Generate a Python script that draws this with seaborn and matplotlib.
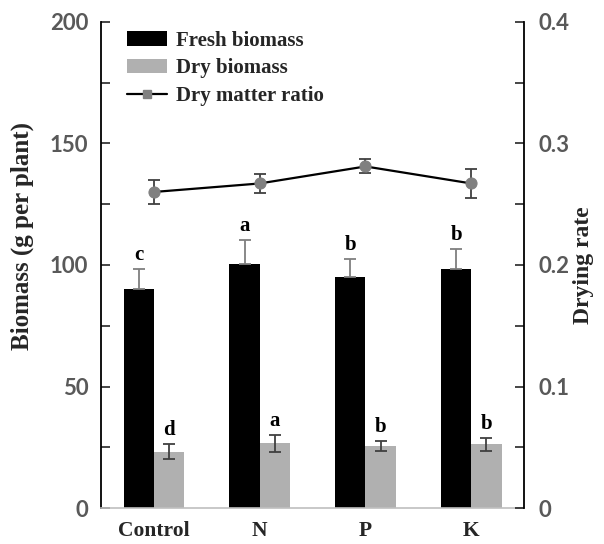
import numpy as np
import pandas as pd
import matplotlib.pyplot as plt
import seaborn as sns
from matplotlib.patches import Patch
from matplotlib.lines import Line2D
from matplotlib.ticker import MultipleLocator

# Data
treatments = ['Control', 'N', 'P', 'K']
fresh = [90.1, 100.5, 95.1, 98.2]
fresh_err = [8.1, 9.8, 7.4, 8.5]
dry = [23.2, 26.6, 25.6, 26.2]
dry_err = [3.0, 3.6, 2.1, 2.6]
ratio = [0.260, 0.267, 0.281, 0.267]
ratio_err = [0.010, 0.008, 0.0058, 0.0118]
fresh_letters = ['c', 'a', 'b', 'b']
dry_letters = ['d', 'a', 'b', 'b']

SERIF = 'Liberation Serif'
TICKFONT = 'Lato'
TICKCOLOR = '#595959'

sns.set_style('white')

df = pd.DataFrame({
    'treatment': treatments * 2,
    'type': ['Fresh biomass'] * 4 + ['Dry biomass'] * 4,
    'value': fresh + dry,
})

fig, ax = plt.subplots(figsize=(6.04, 5.44), dpi=100)
fig.subplots_adjust(left=0.167, right=0.868, top=0.96, bottom=0.066)

sns.barplot(data=df, x='treatment', y='value', hue='type',
            palette={'Fresh biomass': 'black', 'Dry biomass': '#b0b0b0'},
            width=0.57, errorbar=None, legend=False, ax=ax, linewidth=0)

# error bars + significance letters on bars
patches = ax.patches
fresh_bars = patches[:4]
dry_bars = patches[4:8]
for bars, vals, errs, letters, ecol in [
        (fresh_bars, fresh, fresh_err, fresh_letters, '#7f7f7f'),
        (dry_bars, dry, dry_err, dry_letters, '#404040')]:
    xs = [b.get_x() + b.get_width() / 2 for b in bars]
    if bars is fresh_bars:
        yerr = [np.zeros(4), errs]
    else:
        yerr = errs
    ax.errorbar(xs, vals, yerr=yerr, fmt='none', ecolor=ecol,
                elinewidth=1.3, capsize=4, capthick=1.3, zorder=3)
    for x, v, e, lab in zip(xs, vals, errs, letters):
        ax.annotate(lab, (x, v + e), xytext=(0, 10), textcoords='offset points',
                    ha='center', va='center', fontsize=15,
                    fontweight='bold', family=SERIF, color='black')

ax.set_xlim(-0.5, 3.5)
ax.set_ylim(0, 200)
ax.yaxis.set_major_locator(MultipleLocator(50))
ax.yaxis.set_minor_locator(MultipleLocator(25))
ax.tick_params(axis='y', which='both', direction='in', length=6.5, width=1.2,
               pad=9, labelsize=16, labelcolor=TICKCOLOR, left=True)
ax.tick_params(axis='x', length=0, pad=9)
for lab in ax.get_yticklabels():
    lab.set_fontfamily(TICKFONT)
    lab.set_fontweight('bold')
ax.set_xticks(range(4))
ax.set_xticklabels(treatments, fontsize=15.5, fontweight='bold', family=SERIF)
ax.set_xlabel('')
ax.set_ylabel('Biomass (g per plant)', fontsize=18, fontweight='bold',
              family=SERIF)
ax.yaxis.set_label_coords(-0.158, 0.56)

ax.spines['top'].set_visible(False)
ax.spines['left'].set_color('black')
ax.spines['left'].set_linewidth(1.3)
ax.spines['bottom'].set_color('#bfbfbf')
ax.spines['bottom'].set_linewidth(1.2)
ax.spines['right'].set_visible(False)

# Dry matter ratio on secondary axis
ax2 = ax.twinx()
xpos = np.arange(len(treatments))
sns.lineplot(x=xpos, y=ratio, ax=ax2, color='black', linewidth=1.6,
             marker='o', markersize=8, markerfacecolor='#808080',
             markeredgecolor='#808080', zorder=4)
ax2.errorbar(xpos, ratio, yerr=ratio_err, fmt='none', ecolor='#404040',
             elinewidth=1.3, capsize=4, capthick=1.3, zorder=3)
ax2.set_ylim(0, 0.4)
ax2.set_xlim(-0.5, 3.5)
ax2.yaxis.set_major_locator(MultipleLocator(0.1))
ax2.yaxis.set_minor_locator(MultipleLocator(0.05))
ax2.yaxis.set_major_formatter(plt.FuncFormatter(lambda v, p: '0' if v == 0 else f'{v:.1f}'))
ax2.tick_params(axis='y', which='both', direction='in', length=6.5, width=1.2,
                pad=10, labelsize=16, labelcolor=TICKCOLOR, right=True)
for lab in ax2.get_yticklabels():
    lab.set_fontfamily(TICKFONT)
    lab.set_fontweight('bold')
ax2.set_ylabel('Drying rate', fontsize=17, fontweight='bold', family=SERIF)
ax2.yaxis.set_label_coords(1.116, 0.5)
ax2.spines['top'].set_visible(False)
ax2.spines['left'].set_visible(False)
ax2.spines['bottom'].set_visible(False)
ax2.spines['right'].set_color('black')
ax2.spines['right'].set_linewidth(1.3)

handles = [
    Patch(facecolor='black', edgecolor='none'),
    Patch(facecolor='#b0b0b0', edgecolor='none'),
    Line2D([0], [0], color='black', lw=1.6, marker='s', markersize=6,
           markerfacecolor='#808080', markeredgecolor='#808080'),
]
ax2.legend(handles, ['Fresh biomass', 'Dry biomass', 'Dry matter ratio'],
           loc='upper left', bbox_to_anchor=(0.062, 0.982), frameon=False,
           prop={'family': SERIF, 'weight': 'bold', 'size': 15},
           handlelength=1.9, handleheight=0.7, handletextpad=0.45,
           labelspacing=0.38, borderaxespad=0, borderpad=0)

fig.savefig('out.png', dpi=100)
